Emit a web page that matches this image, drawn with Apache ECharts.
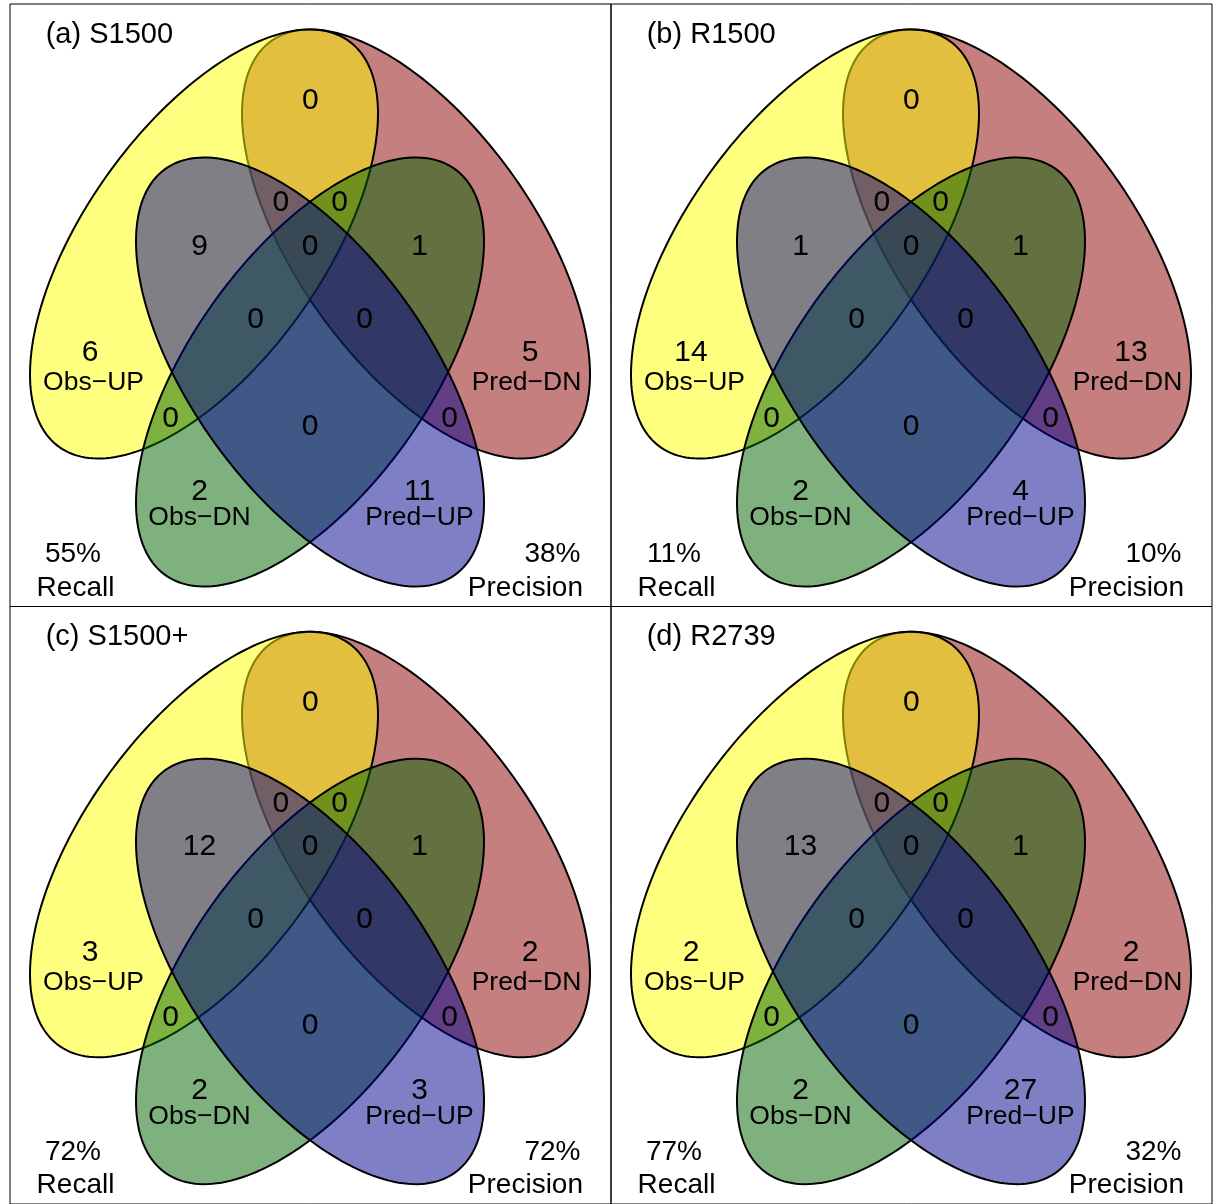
<!DOCTYPE html>
<html>
<head>
<meta charset="utf-8">
<script src="https://cdn.jsdelivr.net/npm/echarts@6/dist/echarts.min.js"></script>
<style>
html, body { margin: 0; padding: 0; background: #fff; }
#chart { width: 1215px; height: 1204px; }
</style>
</head>
<body>
<div id="chart"></div>
<script>
// ---- data ----
const panelTitles = ['(a) S1500', '(b) R1500', '(c) S1500+', '(d) R2739'];
const setNames = ['Obs−UP', 'Obs−DN', 'Pred−UP', 'Pred−DN'];
// Y = Obs-UP, G = Obs-DN, B = Pred-UP, R = Pred-DN
const regionKeys = ['Y', 'G', 'B', 'R', 'YR', 'YB', 'GR', 'YG', 'BR', 'YRB', 'YRG', 'YGBR', 'YGB', 'GBR', 'GB'];
const countsA = [6, 2, 11, 5, 0, 9, 1, 0, 0, 0, 0, 0, 0, 0, 0];
const countsB = [14, 2, 4, 13, 0, 1, 1, 0, 0, 0, 0, 0, 0, 0, 0];
const countsC = [3, 2, 3, 2, 0, 12, 1, 0, 0, 0, 0, 0, 0, 0, 0];
const countsD = [2, 2, 27, 2, 0, 13, 1, 0, 0, 0, 0, 0, 0, 0, 0];
const recall = [55, 11, 72, 77];
const precision = [38, 10, 72, 32];

// ---- layout (panel units, y down) ----
const PW = 601, PH = 602.5;
const panelBoxes = [[10, 4], [611, 4], [10, 606.5], [611, 606.5]];
const ellipses = [
  { x: 194, y: 240, w: 174, h: 214.5, c: -22700, fill: 'rgba(255,255,0,0.5)' }, // Obs-UP
  { x: 300, y: 368, w: 174, h: 214.5, c: -22700, fill: 'rgba(0,100,0,0.5)' },   // Obs-DN
  { x: 300, y: 368, w: 174, h: 214.5, c: 22700, fill: 'rgba(0,0,139,0.5)' },     // Pred-UP
  { x: 406, y: 240, w: 174, h: 214.5, c: 22700, fill: 'rgba(139,0,0,0.5)' }      // Pred-DN
];
const drawOrder = [3, 0, 1, 2];
const regionPos = {
  Y: [80, 349], G: [189.5, 488], B: [409.5, 488], R: [520, 349],
  YR: [300.3, 96.7], YB: [189.5, 242.7], GR: [409.5, 242.7],
  YG: [160.5, 415], BR: [439.5, 415],
  YRB: [270.8, 198.7], YRG: [329.5, 198.7], YGBR: [300.2, 242.7],
  YGB: [245.5, 315.6], GBR: [354.5, 315.6], GB: [300.2, 422.8]
};
const namePos = [[83.5, 379], [189.5, 514], [409.5, 514], [516.5, 379]];
const FONT = '"Liberation Sans", Arial, Helvetica, sans-serif';

function buildLabels(p) {
  const counts = [countsA, countsB, countsC, countsD][p];
  const items = [];
  regionKeys.forEach((k, i) => items.push({ pos: regionPos[k], text: String(counts[i]), size: 30, align: 'center' }));
  setNames.forEach((n, i) => items.push({ pos: namePos[i], text: n, size: 26.5, align: 'center' }));
  items.push({ pos: [35.7, 30.5], text: panelTitles[p], size: 29, align: 'left' });
  items.push({ pos: [63, 550.7], text: recall[p] + '%', size: 28, align: 'center' });
  items.push({ pos: [65.5, 584], text: 'Recall', size: 28, align: 'center' });
  items.push({ pos: [570.5, 550.7], text: precision[p] + '%', size: 28, align: 'right' });
  items.push({ pos: [573, 584], text: 'Precision', size: 28, align: 'right' });
  return items;
}

function renderEllipse(params, api) {
  const e = ellipses[api.value(0)];
  const k = e.c / e.w;
  const s = Math.sqrt(e.h * e.h - k * k);
  const pts = [];
  for (let i = 0; i < 200; i++) {
    const t = i / 200 * Math.PI * 2;
    pts.push(api.coord([e.x + e.w * Math.cos(t), e.y + k * Math.cos(t) + s * Math.sin(t)]));
  }
  return {
    type: 'polygon',
    shape: { points: pts },
    style: { fill: e.fill, stroke: '#000', lineWidth: 2 }
  };
}

const grids = [], xAxes = [], yAxes = [], series = [];
panelBoxes.forEach((b, p) => {
  grids.push({ left: b[0], top: b[1], width: PW, height: PH, show: true, borderColor: '#000', borderWidth: 1, backgroundColor: 'transparent' });
  xAxes.push({ gridIndex: p, type: 'value', min: 0, max: PW, show: false });
  yAxes.push({ gridIndex: p, type: 'value', min: 0, max: PH, inverse: true, show: false });
  series.push({
    type: 'custom', xAxisIndex: p, yAxisIndex: p,
    renderItem: renderEllipse,
    data: drawOrder.map(i => [i, 0]),
    silent: true
  });
  const items = buildLabels(p);
  series.push({
    type: 'custom', xAxisIndex: p, yAxisIndex: p,
    renderItem: function (params, api) {
      const it = items[params.dataIndex];
      const pt = api.coord(it.pos);
      return {
        type: 'text', x: pt[0], y: pt[1], z2: 10,
        style: { text: it.text, fill: '#000', fontSize: it.size, fontFamily: FONT, align: it.align, verticalAlign: 'middle' }
      };
    },
    data: items.map(it => it.pos),
    silent: true
  });
});

const chart = echarts.init(document.getElementById('chart'), null, { renderer: 'canvas' });
chart.setOption({
  backgroundColor: '#fff',
  animation: false,
  grid: grids,
  xAxis: xAxes,
  yAxis: yAxes,
  series: series
});
</script>
</body>
</html>
